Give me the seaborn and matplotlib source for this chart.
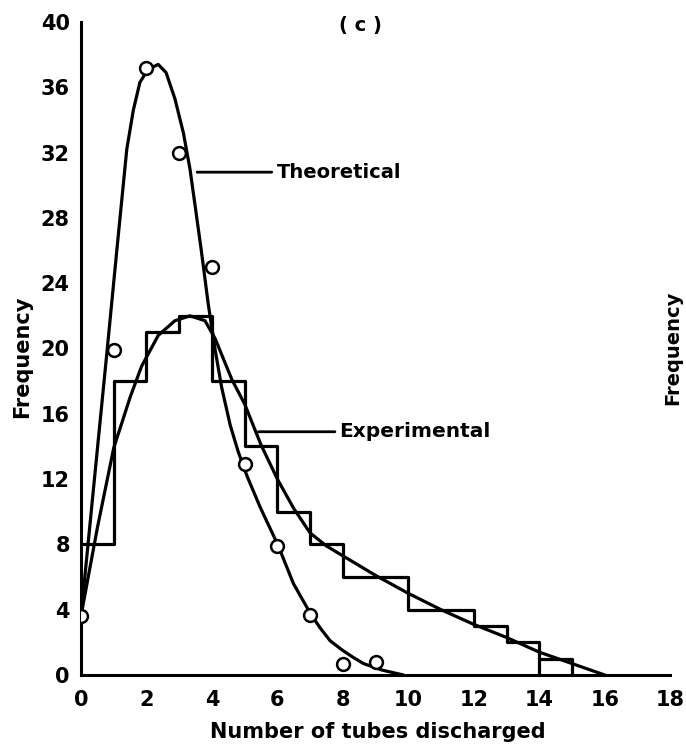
import matplotlib
matplotlib.use("Agg")
import matplotlib.pyplot as plt
import seaborn as sns

# ---------------- data ----------------
tubes = [0, 1, 2, 3, 4, 5, 6, 7, 8, 9]
theoretical_points = [3.6, 19.9, 37.2, 32.0, 25.0, 12.9, 7.9, 3.7, 0.7, 0.8]

hist_left = [0, 1, 2, 3, 4, 5, 6, 7, 8, 9, 10, 11, 12, 13, 14, 15]
hist_counts = [8, 18, 21, 22, 18, 14, 10, 8, 6, 6, 4, 4, 3, 2, 1, 0]

theo_curve_x = [0.0, 0.5, 0.8, 1.1, 1.4, 1.6, 1.8, 2.05, 2.36, 2.6, 2.87, 3.13,
                3.33, 3.49, 3.67, 3.89, 4.1, 4.3, 4.56, 4.8, 5.07, 5.47, 6.03,
                6.49, 7.0, 7.3, 7.61, 8.0, 8.3, 8.63, 9.2, 9.85]
theo_curve_y = [3.6, 13.8, 19.9, 26.1, 32.2, 34.6, 36.3, 37.1, 37.4, 36.9, 35.3, 33.2,
                31.0, 28.7, 26.1, 22.7, 19.9, 17.6, 15.3, 13.7, 12.2, 10.3, 7.9,
                5.6, 3.8, 2.9, 2.1, 1.5, 1.1, 0.7, 0.3, 0.0]

exp_curve_x = [0.0, 0.5, 1.0, 1.5, 1.85, 2.36, 2.87, 3.33, 3.79, 4.1, 4.61, 5.0,
               5.5, 6.0, 6.5, 7.0, 7.5, 8.0, 9.0, 10.0, 11.0, 12.0, 13.0, 14.0,
               15.0, 16.0]
exp_curve_y = [3.6, 9.0, 13.9, 17.0, 18.9, 20.8, 21.7, 22.0, 21.7, 20.6, 18.1, 16.6,
               14.1, 12.0, 10.2, 8.7, 7.9, 7.3, 6.1, 5.0, 4.0, 3.1, 2.3, 1.4,
               0.7, 0.0]

x_ticks = [0, 2, 4, 6, 8, 10, 12, 14, 16, 18]
y_ticks = [0, 4, 8, 12, 16, 20, 24, 28, 32, 36, 40]

# ---------------- style ----------------
sns.set_style("white")
plt.rcParams["font.family"] = ["DejaVu Sans"]
plt.rcParams["font.weight"] = "bold"
for key in ["text.color", "axes.labelcolor", "xtick.color", "ytick.color",
            "axes.edgecolor"]:
    plt.rcParams[key] = "black"

fig = plt.figure(figsize=(6.86, 7.5), dpi=100)
ax = fig.add_axes([0.118, 0.1, 0.859, 0.8707])

LW = 2.3

# experimental histogram (steps)
sns.lineplot(x=hist_left, y=hist_counts, drawstyle="steps-post", color="black",
             lw=LW, estimator=None, sort=False, ax=ax)
# left edge of the last bar reaching the baseline
sns.lineplot(x=[hist_left[14], hist_left[14]], y=[0, hist_counts[14]],
             color="black", lw=LW, estimator=None, sort=False, ax=ax)

# experimental smooth curve
sns.lineplot(x=exp_curve_x, y=exp_curve_y, color="black", lw=LW,
             estimator=None, sort=False, ax=ax)
# theoretical smooth curve
sns.lineplot(x=theo_curve_x, y=theo_curve_y, color="black", lw=LW,
             estimator=None, sort=False, ax=ax)

# theoretical points
sns.scatterplot(x=tubes, y=theoretical_points, marker="o", s=85,
                facecolor="white", edgecolor="black", linewidth=1.8,
                zorder=5, ax=ax)

# annotations
ax.annotate("Theoretical", xy=(3.55, 30.8), xytext=(5.97, 30.8),
            va="center", ha="left", fontsize=14, fontweight="bold",
            color="black",
            arrowprops=dict(arrowstyle="-", lw=2.0, color="black",
                            shrinkA=1, shrinkB=0))
ax.annotate("Experimental", xy=(5.42, 14.9), xytext=(7.9, 14.9),
            va="center", ha="left", fontsize=14.5, fontweight="bold",
            color="black",
            arrowprops=dict(arrowstyle="-", lw=2.0, color="black",
                            shrinkA=1, shrinkB=0))
ax.text(8.53, 39.8, "( c )", ha="center", va="center", fontsize=14,
        fontweight="bold", color="black")

# axes
ax.set_xlim(0, 18)
ax.set_ylim(0, 40)
ax.set_xticks(x_ticks)
ax.set_yticks(y_ticks)
ax.set_xticklabels([str(v) for v in x_ticks], fontsize=15, fontweight="bold")
ax.set_yticklabels([str(v) for v in y_ticks], fontsize=15, fontweight="bold")
ax.tick_params(axis="y", direction="in", length=9.5, width=2.2, pad=8,
               colors="black")
ax.tick_params(axis="x", direction="in", length=7, width=2.2, pad=11,
               colors="black")
for side in ["top", "right"]:
    ax.spines[side].set_visible(False)
for side in ["left", "bottom"]:
    ax.spines[side].set_linewidth(2.2)
    ax.spines[side].set_color("black")

ax.set_xlabel("Number of tubes discharged", fontsize=15, fontweight="bold",
              color="black", va="center")
ax.set_ylabel("Frequency", fontsize=15, fontweight="bold", color="black",
              va="center")
ax.xaxis.set_label_coords(0.504, -0.087)
ax.yaxis.set_label_coords(-0.1, 0.488)

# second axis title on the right edge
fig.text(0.98, 0.536, "Frequency", rotation=90, ha="center", va="center",
         fontsize=14, fontweight="bold", color="black")

fig.savefig("out.png", dpi=100)
